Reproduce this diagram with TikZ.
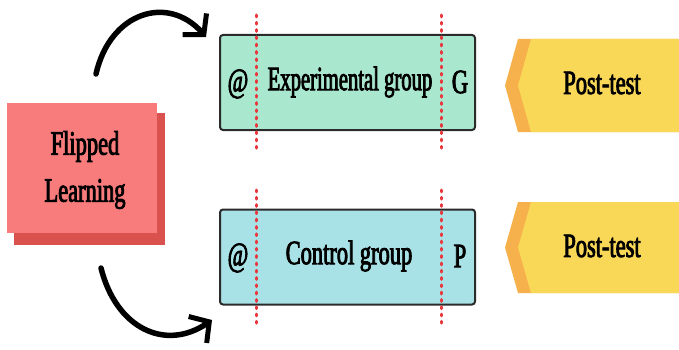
\documentclass[tikz,border=0pt]{standalone}
\usepackage{fontspec}
\setmainfont{Liberation Serif}[FakeStretch=0.66,FakeBold=2.5]
\usetikzlibrary{arrows.meta}
\definecolor{pinkfront}{HTML}{F87C7C}
\definecolor{pinkshadow}{HTML}{D9524E}
\definecolor{mint}{HTML}{A9E8CE}
\definecolor{aqua}{HTML}{A9E2E6}
\definecolor{dotred}{HTML}{E8393F}
\definecolor{amber}{HTML}{F6B04C}
\definecolor{sun}{HTML}{F9D858}
\definecolor{edge}{HTML}{2B2B2B}
\tikzset{
  lbl/.style={font=\fontsize{34}{38}\selectfont, text=black, inner sep=0pt},
  groupbox/.style={draw=edge, line width=2pt, rounded corners=3pt, minimum width=255pt, minimum height=95pt, inner sep=0pt},
  divider/.style={draw=dotred, line width=3pt, line cap=round, dash pattern=on 1.8pt off 5.5pt},
  curlarrow/.style={draw=black, line width=5.5pt, line cap=round, -{Straight Barb[length=14pt,width=32pt,line width=5pt]}},
}
\begin{document}
\begin{tikzpicture}[x=1pt,y=-1pt]
\useasboundingbox (0,0) rectangle (679,350);

% Flipped Learning card with its offset shadow
\node (shadow) [fill=pinkshadow, minimum width=151pt, minimum height=132pt, inner sep=0pt] at (89.5,179) {};
\node (flip) [fill=pinkfront, minimum width=150pt, minimum height=130pt, inner sep=0pt] at (82,168) {};
\node (fliptext) [lbl, align=center, font=\fontsize{34}{47}\selectfont] at (85,170) {Flipped\\Learning};

% group boxes
\node (exp) [groupbox, fill=mint] at (347.5,82.5) {};
\node (ctl) [groupbox, fill=aqua] at (347.5,257) {};

% dotted dividers
\coordinate (d1a) at (256,15);  \coordinate (d1b) at (256,151);
\coordinate (d2a) at (441,15);  \coordinate (d2b) at (441,151);
\coordinate (d3a) at (256,190); \coordinate (d3b) at (256,324);
\coordinate (d4a) at (441,190); \coordinate (d4b) at (441,324);
\draw[divider] (d1a) -- (d1b);
\draw[divider] (d2a) -- (d2b);
\draw[divider] (d3a) -- (d3b);
\draw[divider] (d4a) -- (d4b);

% labels inside the group boxes
\node (at1) [lbl] at (238,84) {@};
\node (expname) [lbl] at (350,82) {\scalebox{0.92}[1]{Experimental group}};
\node (g) [lbl] at (460,82) {G};
\node (at2) [lbl] at (238,258) {@};
\node (ctlname) [lbl] at (349,256) {Control group};
\node (p) [lbl] at (460,256) {P};

% post-test tags
\fill[amber] (518,39) -- (679,39) -- (679,132) -- (518,132) -- (505,85.5) -- cycle;
\fill[sun]   (531,39) -- (679,39) -- (679,132) -- (531,132) -- (518,85.5) -- cycle;
\fill[amber] (518,202) -- (679,202) -- (679,293) -- (518,293) -- (505,247.5) -- cycle;
\fill[sun]   (531,202) -- (679,202) -- (679,293) -- (531,293) -- (518,247.5) -- cycle;
\node (post1) [lbl] at (602,83) {Post-test};
\node (post2) [lbl] at (602,246) {Post-test};

% curved arrows from the card to the groups
\coordinate (up0) at (96,74);
\coordinate (up1) at (206,37);
\coordinate (dn0) at (101,268);
\coordinate (dn1) at (212,320);
\draw[curlarrow] (up0) .. controls (110,12) and (168,-6) .. (up1);
\draw[curlarrow] (dn0) .. controls (116,328) and (165,352) .. (dn1);
\end{tikzpicture}
\end{document}
